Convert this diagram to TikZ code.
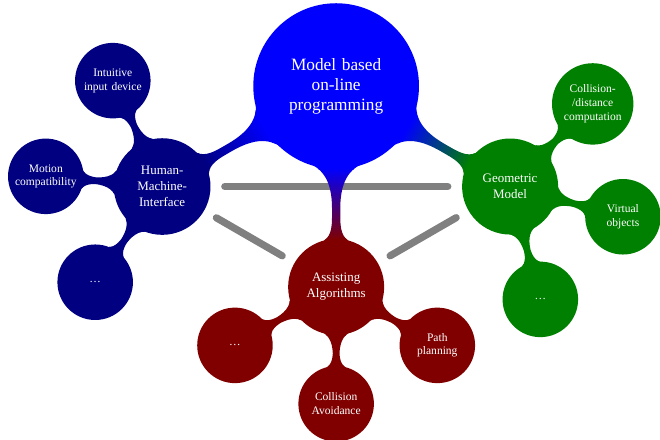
\documentclass[tikz,border=0pt]{standalone}
\usepackage{fontspec}
\setmainfont{Liberation Serif}
\usepackage{tikz}
\usetikzlibrary{mindmap, backgrounds}

\begin{document}
\begin{tikzpicture}[mindmap,
    mainconcept/.style={concept, concept color=blue, text=white, align=center,
      minimum size=4cm, text width=3.5cm, font=\large},
    fieldconcept/.style={concept, concept color=#1, text=white, align=center,
      minimum size=2.3cm, text width=2cm, font=\small},
    itemconcept/.style={concept, concept color=#1, text=white, align=center,
      minimum size=1.8cm, text width=1.6cm, font=\footnotesize},
    relation/.style={gray, line width=5pt, line cap=round,
      shorten <=10.5pt, shorten >=10.5pt}]
  \useasboundingbox (-8.2,-8.63) rectangle (7.9,2.1);

  \node[mainconcept] (root) at (0,0) {Model based\\on-line\\programming};

  % first level
  \node[fieldconcept=blue!50!black] (hmi) at ([shift={(210:4.9cm)}]root) {Human-\\Machine-\\Interface};
  \node[fieldconcept=green!50!black] (geo) at ([shift={(330:4.9cm)}]root) {Geometric\\Model};
  \node[fieldconcept=red!50!black] (alg) at ([shift={(270:4.9cm)}]root) {Assisting\\Algorithms};

  % second level
  \node[itemconcept=blue!50!black] (hmi1) at ([shift={(115:2.85cm)}]hmi) {Intuitive\\input device};
  \node[itemconcept=blue!50!black] (hmi2) at ([shift={(175:2.85cm)}]hmi) {Motion\\compatibility};
  \node[itemconcept=blue!50!black] (hmi3) at ([shift={(235:2.85cm)}]hmi) {\dots};

  \node[itemconcept=green!50!black] (geo1) at ([shift={(45:2.85cm)}]geo) {Collision-\\/distance\\computation};
  \node[itemconcept=green!50!black] (geo2) at ([shift={(-15:2.85cm)}]geo) {Virtual\\objects};
  \node[itemconcept=green!50!black] (geo3) at ([shift={(-75:2.85cm)}]geo) {\dots};

  \node[itemconcept=red!50!black] (alg1) at ([shift={(210:2.85cm)}]alg) {\dots};
  \node[itemconcept=red!50!black] (alg2) at ([shift={(270:2.85cm)}]alg) {Collision\\Avoidance};
  \node[itemconcept=red!50!black] (alg3) at ([shift={(330:2.85cm)}]alg) {Path\\planning};

  \begin{pgfonlayer}{background}
    \draw[relation] (hmi) -- (geo);
    \draw[relation] (hmi) -- (alg);
    \draw[relation] (geo) -- (alg);

    \path (root) to[circle connection bar switch color=from (blue) to (blue!50!black)] (hmi);
    \path (root) to[circle connection bar switch color=from (blue) to (green!50!black)] (geo);
    \path (root) to[circle connection bar switch color=from (blue) to (red!50!black)] (alg);

    \path (hmi) to[circle connection bar switch color=from (blue!50!black) to (blue!50!black)] (hmi1);
    \path (hmi) to[circle connection bar switch color=from (blue!50!black) to (blue!50!black)] (hmi2);
    \path (hmi) to[circle connection bar switch color=from (blue!50!black) to (blue!50!black)] (hmi3);

    \path (geo) to[circle connection bar switch color=from (green!50!black) to (green!50!black)] (geo1);
    \path (geo) to[circle connection bar switch color=from (green!50!black) to (green!50!black)] (geo2);
    \path (geo) to[circle connection bar switch color=from (green!50!black) to (green!50!black)] (geo3);

    \path (alg) to[circle connection bar switch color=from (red!50!black) to (red!50!black)] (alg1);
    \path (alg) to[circle connection bar switch color=from (red!50!black) to (red!50!black)] (alg2);
    \path (alg) to[circle connection bar switch color=from (red!50!black) to (red!50!black)] (alg3);
  \end{pgfonlayer}
\end{tikzpicture}
\end{document}
